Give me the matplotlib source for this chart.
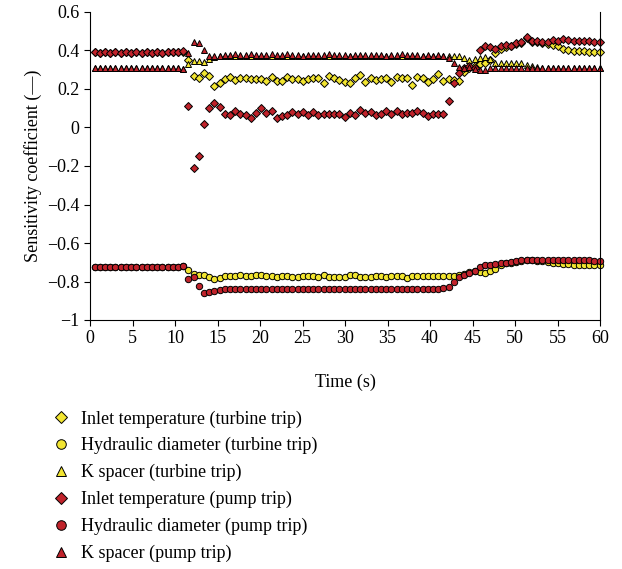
import numpy as np
import matplotlib
matplotlib.use("Agg")
from matplotlib import pyplot as plt
from matplotlib.ticker import FuncFormatter, MultipleLocator

plt.rcParams['font.family'] = ['Liberation Serif', 'DejaVu Serif']

# sample times (s), uniform output interval
time = np.linspace(0.55, 59.95, 98)

inlet_turbine = [
    0.390, 0.388, 0.390, 0.389, 0.391, 0.388, 0.390, 0.389, 0.390, 0.388,
    0.390, 0.389, 0.390, 0.389, 0.390, 0.390, 0.391, 0.390, 0.351, 0.269,
    0.259, 0.285, 0.268, 0.216, 0.233, 0.250, 0.264, 0.247, 0.256, 0.256,
    0.254, 0.254, 0.254, 0.243, 0.264, 0.243, 0.243, 0.264, 0.254, 0.250,
    0.243, 0.254, 0.256, 0.256, 0.230, 0.269, 0.259, 0.247, 0.238, 0.230,
    0.259, 0.273, 0.238, 0.256, 0.247, 0.250, 0.259, 0.238, 0.264, 0.259,
    0.259, 0.221, 0.264, 0.256, 0.235, 0.252, 0.278, 0.243, 0.250, 0.247,
    0.243, 0.290, 0.310, 0.320, 0.330, 0.335, 0.350, 0.389, 0.410, 0.420,
    0.425, 0.435, 0.440, 0.463, 0.443, 0.445, 0.440, 0.432, 0.429, 0.423,
    0.408, 0.403, 0.399, 0.399, 0.397, 0.394, 0.392, 0.392,
]

hydraulic_turbine = [
    -0.723, -0.723, -0.723, -0.723, -0.723, -0.723, -0.723, -0.723, -0.723, -0.723,
    -0.723, -0.723, -0.723, -0.723, -0.723, -0.723, -0.723, -0.720, -0.740, -0.763,
    -0.766, -0.766, -0.775, -0.789, -0.780, -0.771, -0.769, -0.770, -0.768, -0.770,
    -0.771, -0.766, -0.766, -0.770, -0.770, -0.775, -0.770, -0.770, -0.775, -0.775,
    -0.771, -0.770, -0.770, -0.775, -0.766, -0.775, -0.775, -0.775, -0.778, -0.766,
    -0.766, -0.775, -0.775, -0.778, -0.770, -0.770, -0.775, -0.770, -0.770, -0.770,
    -0.783, -0.770, -0.770, -0.771, -0.770, -0.771, -0.771, -0.770, -0.771, -0.770,
    -0.768, -0.762, -0.752, -0.748, -0.752, -0.756, -0.748, -0.735, -0.715, -0.705,
    -0.703, -0.697, -0.694, -0.686, -0.690, -0.692, -0.695, -0.698, -0.702, -0.705,
    -0.708, -0.711, -0.713, -0.714, -0.714, -0.714, -0.714, -0.714,
]

kspacer_turbine = [
    0.307, 0.307, 0.307, 0.307, 0.307, 0.307, 0.307, 0.307, 0.307, 0.307,
    0.307, 0.307, 0.307, 0.307, 0.307, 0.307, 0.307, 0.305, 0.328, 0.347,
    0.345, 0.339, 0.354, 0.365, 0.370, 0.372, 0.373, 0.372, 0.374, 0.373,
    0.372, 0.374, 0.373, 0.372, 0.373, 0.374, 0.372, 0.373, 0.372, 0.374,
    0.373, 0.372, 0.373, 0.372, 0.374, 0.373, 0.372, 0.373, 0.372, 0.374,
    0.373, 0.372, 0.373, 0.372, 0.374, 0.373, 0.372, 0.373, 0.372, 0.374,
    0.373, 0.372, 0.373, 0.372, 0.374, 0.373, 0.372, 0.371, 0.370, 0.370,
    0.372, 0.359, 0.352, 0.357, 0.362, 0.366, 0.356, 0.333, 0.333, 0.334,
    0.336, 0.333, 0.333, 0.326, 0.318, 0.313, 0.308, 0.308, 0.308, 0.308,
    0.308, 0.308, 0.308, 0.308, 0.308, 0.308, 0.308, 0.308,
]

inlet_pump = [
    0.390, 0.388, 0.390, 0.389, 0.391, 0.388, 0.390, 0.389, 0.390, 0.388,
    0.390, 0.389, 0.390, 0.389, 0.390, 0.390, 0.391, 0.400, 0.110, -0.210,
    -0.150, 0.020, 0.103, 0.127, 0.105, 0.069, 0.063, 0.086, 0.069, 0.063,
    0.051, 0.075, 0.103, 0.077, 0.084, 0.049, 0.060, 0.065, 0.082, 0.069,
    0.081, 0.063, 0.081, 0.065, 0.070, 0.070, 0.070, 0.072, 0.053, 0.074,
    0.065, 0.091, 0.077, 0.082, 0.065, 0.070, 0.088, 0.070, 0.084, 0.069,
    0.074, 0.074, 0.088, 0.077, 0.062, 0.070, 0.070, 0.069, 0.138, 0.230,
    0.282, 0.310, 0.318, 0.310, 0.403, 0.423, 0.417, 0.408, 0.423, 0.429,
    0.425, 0.437, 0.444, 0.468, 0.449, 0.449, 0.444, 0.444, 0.455, 0.449,
    0.460, 0.455, 0.451, 0.451, 0.449, 0.449, 0.446, 0.444,
]

hydraulic_pump = [
    -0.723, -0.723, -0.723, -0.723, -0.723, -0.723, -0.723, -0.723, -0.723, -0.723,
    -0.723, -0.723, -0.723, -0.723, -0.723, -0.723, -0.723, -0.718, -0.789, -0.775,
    -0.822, -0.858, -0.853, -0.848, -0.843, -0.841, -0.840, -0.840, -0.839, -0.840,
    -0.839, -0.840, -0.840, -0.841, -0.840, -0.840, -0.839, -0.840, -0.841, -0.840,
    -0.840, -0.839, -0.840, -0.840, -0.841, -0.840, -0.840, -0.839, -0.840, -0.840,
    -0.839, -0.840, -0.840, -0.838, -0.840, -0.839, -0.840, -0.838, -0.839, -0.838,
    -0.837, -0.839, -0.838, -0.839, -0.838, -0.838, -0.838, -0.835, -0.827, -0.804,
    -0.778, -0.766, -0.757, -0.744, -0.723, -0.714, -0.714, -0.709, -0.706, -0.703,
    -0.697, -0.694, -0.688, -0.688, -0.690, -0.690, -0.690, -0.688, -0.688, -0.686,
    -0.688, -0.688, -0.688, -0.690, -0.690, -0.690, -0.692, -0.694,
]

kspacer_pump = [
    0.307, 0.307, 0.307, 0.307, 0.307, 0.307, 0.307, 0.307, 0.307, 0.307,
    0.307, 0.307, 0.307, 0.307, 0.307, 0.307, 0.307, 0.304, 0.385, 0.446,
    0.440, 0.403, 0.371, 0.370, 0.374, 0.378, 0.375, 0.380, 0.376, 0.378,
    0.381, 0.375, 0.379, 0.376, 0.380, 0.375, 0.378, 0.381, 0.376, 0.377,
    0.374, 0.379, 0.376, 0.378, 0.375, 0.380, 0.377, 0.375, 0.378, 0.374,
    0.379, 0.376, 0.378, 0.375, 0.379, 0.377, 0.374, 0.378, 0.376, 0.380,
    0.375, 0.377, 0.378, 0.374, 0.376, 0.373, 0.375, 0.372, 0.360, 0.333,
    0.316, 0.310, 0.313, 0.305, 0.298, 0.298, 0.310, 0.311, 0.309, 0.308,
    0.310, 0.307, 0.309, 0.308, 0.310, 0.307, 0.309, 0.308, 0.307, 0.309,
    0.307, 0.308, 0.309, 0.307, 0.308, 0.309, 0.307, 0.308,
]

yellow = '#f2e531'
red = '#c0232b'

series = [
    (inlet_turbine, 'D', yellow, 3.8, 'Inlet temperature (turbine trip)'),
    (hydraulic_turbine, 'o', yellow, 4.6, 'Hydraulic diameter (turbine trip)'),
    (kspacer_turbine, '^', yellow, 4.6, 'K spacer (turbine trip)'),
    (inlet_pump, 'D', red, 3.8, 'Inlet temperature (pump trip)'),
    (hydraulic_pump, 'o', red, 4.6, 'Hydraulic diameter (pump trip)'),
    (kspacer_pump, '^', red, 4.6, 'K spacer (pump trip)'),
]

fig = plt.figure(figsize=(6.22, 5.69), dpi=100)
ax = fig.add_axes([90 / 622, 1 - 320 / 569, 510 / 622, 308 / 569])

for vals, mk, col, ms, lab in series:
    ax.plot(time, vals, linestyle='none', marker=mk, markersize=ms,
            markerfacecolor=col, markeredgecolor='black', markeredgewidth=0.7,
            label=lab, clip_on=False)

ax.set_xlim(0, 60)
ax.set_ylim(-1, 0.6)
ax.xaxis.set_major_locator(MultipleLocator(5))
ax.yaxis.set_major_locator(MultipleLocator(0.2))
ax.yaxis.set_major_formatter(FuncFormatter(lambda v, p: f"{v:.1f}".rstrip('0').rstrip('.').replace('-', '\u2212') if abs(v) > 1e-9 else '0'))
ax.xaxis.set_major_formatter(FuncFormatter(lambda v, p: f"{v:g}"))

ax.spines['top'].set_visible(False)
for s in ['left', 'bottom', 'right']:
    ax.spines[s].set_linewidth(0.8)
ax.tick_params(direction='out', length=4, width=0.8, labelsize=13, right=False, top=False)

ax.set_xlabel('Time (s)', fontsize=13, labelpad=19)
ax.set_ylabel('Sensitivity coefficient (\u2014)', fontsize=13, labelpad=4)

ax.legend(loc='upper left', bbox_to_anchor=(45 / 622, 1 - 403 / 569),
          bbox_transform=fig.transFigure, frameon=False, fontsize=13,
          markerscale=1.5, handlelength=1.0, handletextpad=0.6,
          labelspacing=0.53, borderaxespad=0)

fig.savefig('out.png', dpi=100)
